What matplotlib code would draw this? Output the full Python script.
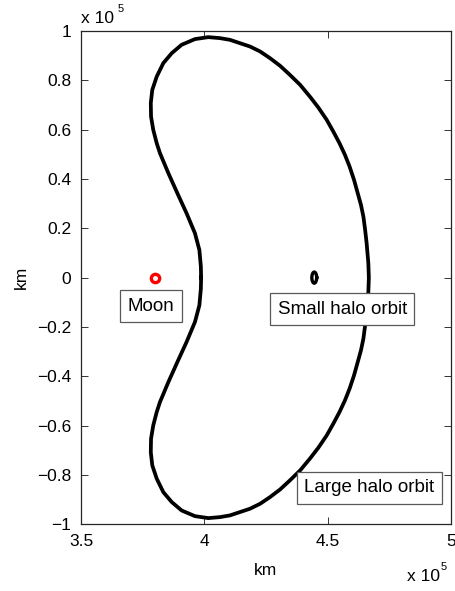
import matplotlib
matplotlib.use("Agg")
import matplotlib.pyplot as plt
from matplotlib.ticker import FuncFormatter, MultipleLocator

plt.rcParams["font.family"] = ["Liberation Sans", "DejaVu Sans"]

# large halo orbit (km), traced once around starting at the inner crossing of y = 0
large_x = [398700, 398600, 398000, 396200, 392800, 389400, 385400, 382000, 380700,
           379300, 378400, 378300, 378900, 380700, 383400, 386800, 390800, 396200,
           401600, 406300, 410400, 418500, 422600, 426600, 430700, 434700, 438800,
           442800, 446200, 449600, 452300, 454800, 457000, 458900, 460700, 462200,
           463500, 464500, 465200, 465800, 466500, 466700,
           466500, 465800, 465200, 464500, 463500, 462200, 460700, 458900, 457000,
           454800, 452300, 449600, 446200, 442800, 438800, 434700, 430700, 426600,
           422600, 418500, 410400, 406300, 401600, 396200, 390800, 386800, 383400,
           380700, 378900, 378300, 378400, 379300, 380700, 382000, 385400, 389400,
           392800, 396200, 398000, 398600, 398700]
large_y = [0, 4500, 11200, 18000, 26100, 33500, 42400, 50500, 54500,
           59900, 65300, 70800, 76100, 81500, 87000, 91000, 94400, 96700,
           97500, 97100, 96400, 93700, 91700, 89000, 85900, 82200, 78200,
           73400, 69000, 64000, 59200, 54500, 49800, 45000, 39600, 34200,
           29500, 24700, 19300, 14000, 5800, 0,
           -5800, -14000, -19300, -24700, -29500, -34200, -39600, -45000, -49800,
           -54500, -59200, -64000, -69000, -73400, -78200, -82200, -85900, -89000,
           -91700, -93700, -96400, -97100, -97500, -96700, -94400, -91000, -87000,
           -81500, -76100, -70800, -65300, -59900, -54500, -50500, -42400, -33500,
           -26100, -18000, -11200, -4500, 0]

# small halo orbit (km)
small_x = [445570, 445430, 445070, 444570, 444070, 443710, 443570,
           443710, 444070, 444570, 445070, 445430, 445570]
small_y = [0, 1150, 1990, 2300, 1990, 1150, 0,
           -1150, -1990, -2300, -1990, -1150, 0]

# the Moon (km)
moon_x = [380000]
moon_y = [0]

labels = ["Moon", "Small halo orbit", "Large halo orbit"]
label_x = [378250, 455900, 466900]
label_y = [-11600, -12900, -85100]

fig = plt.figure(figsize=(4.56, 5.91), dpi=100)
ax = fig.add_axes([0.1776, 0.1129, 0.8114, 0.8347])

ax.plot(large_x, large_y, color="black", lw=2.7, solid_joinstyle="round", zorder=2)
ax.plot(small_x, small_y, color="black", lw=2.4, solid_joinstyle="round", zorder=2)
ax.plot(moon_x, moon_y, "o", mfc="white", mec="red", ms=6, mew=2.4, zorder=3)

for txt, tx, ty in zip(labels, label_x, label_y):
    ax.text(tx, ty, txt, ha="center", va="center", fontsize=13.5, zorder=5,
            bbox=dict(boxstyle="square,pad=0.4", fc="white", ec="0.35", lw=0.9))

ax.set_xlim(350000, 500000)
ax.set_ylim(-100000, 100000)
ax.xaxis.set_major_locator(MultipleLocator(50000))
ax.yaxis.set_major_locator(MultipleLocator(20000))


def scaled(v, pos):
    s = "%g" % round(v / 1e5, 2)
    return s.replace("-", "\u2212")


ax.xaxis.set_major_formatter(FuncFormatter(scaled))
ax.yaxis.set_major_formatter(FuncFormatter(scaled))
ax.tick_params(direction="in", length=5, width=0.7, top=True, right=True,
               labelsize=12.5, pad=7, color="0.2")
for sp in ax.spines.values():
    sp.set_linewidth(0.9)
    sp.set_color("0.15")

ax.set_xlabel("km", fontsize=12.5, labelpad=10)
ax.set_ylabel("km", fontsize=12.5, labelpad=6)

# exponent markers for both axes
fig.text(81 / 456, 1 - 23 / 591, "x 10", fontsize=12.5, ha="left", va="baseline")
fig.text(118 / 456, 1 - 12 / 591, "5", fontsize=8, ha="left", va="baseline")
fig.text(407 / 456, 1 - 581 / 591, "x 10", fontsize=12.5, ha="left", va="baseline")
fig.text(441 / 456, 1 - 570 / 591, "5", fontsize=8, ha="left", va="baseline")

fig.savefig("out.png", dpi=100)
